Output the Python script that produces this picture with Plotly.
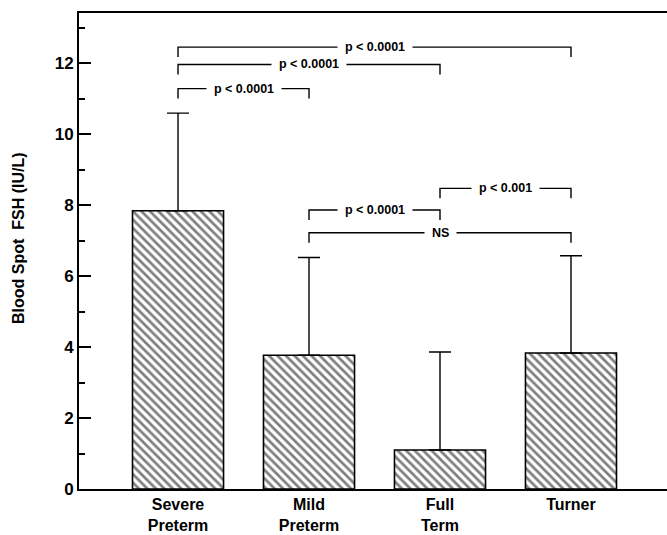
import plotly.graph_objects as go

categories = ["Severe<br>Preterm", "Mild<br>Preterm", "Full<br>Term", "Turner"]
means = [7.84, 3.77, 1.10, 3.83]
sd = [2.75, 2.75, 2.76, 2.74]
y_ticks = [0, 2, 4, 6, 8, 10, 12]

# brackets: (left group index, right group index, level, label)
brackets = [
    (0, 3, 12.45, "p < 0.0001"),
    (0, 2, 11.96, "p < 0.0001"),
    (0, 1, 11.28, "p < 0.0001"),
    (2, 3, 8.47, "p < 0.001"),
    (1, 2, 7.86, "p < 0.0001"),
    (1, 3, 7.22, "NS"),
]
y_title = "Blood Spot  FSH (IU/L)"

FONT = "Liberation Sans"
xs = list(range(len(categories)))

fig = go.Figure()
fig.add_trace(go.Bar(
    x=xs, y=means, width=0.695,
    marker=dict(color="white", line=dict(color="black", width=1.6),
                pattern=dict(shape="\\", fgcolor="black", bgcolor="white", size=6, solidity=0.45)),
    error_y=dict(type="data", array=sd, arrayminus=[0] * len(sd), symmetric=False,
                 color="black", thickness=1.4, width=11),
    showlegend=False,
))

drop = 0.28
for a, b, lvl, lab in brackets:
    fig.add_trace(go.Scatter(
        x=[xs[a], xs[a], xs[b], xs[b]], y=[lvl - drop, lvl, lvl, lvl - drop],
        mode="lines", line=dict(color="black", width=1.4), showlegend=False, hoverinfo="skip",
    ))
    fig.add_annotation(x=(xs[a] + xs[b]) / 2, y=lvl, text="&nbsp;&nbsp;" + lab + "&nbsp;&nbsp;",
                       showarrow=False, bgcolor="white", borderpad=0,
                       font=dict(family=FONT, size=12.5, color="black", weight="bold"))

fig.add_annotation(xref="paper", yref="paper", x=-0.104, y=0.527, text=y_title,
                   textangle=-90, showarrow=False, xanchor="center", yanchor="middle",
                   font=dict(family=FONT, size=16, color="black", weight="bold"))

fig.update_layout(
    width=667, height=535,
    margin=dict(l=79, r=0, t=13, b=46, autoexpand=False),
    paper_bgcolor="white", plot_bgcolor="white",
    font=dict(family=FONT, color="black"),
)
fig.update_xaxes(
    range=[-0.756, 3.733], tickvals=xs, ticktext=categories, ticks="",
    showline=True, linecolor="black", linewidth=2, mirror=True, automargin=False,
    showgrid=False, zeroline=False, ticklabelstandoff=0,
    tickfont=dict(family=FONT, size=16, color="black", weight="bold"),
)
fig.update_yaxes(
    range=[0, 13.41], tickvals=y_ticks, ticks="inside", ticklen=12, tickwidth=2,
    tickcolor="black", showline=True, linecolor="black", linewidth=2, mirror=False,
    automargin=False, showgrid=False, zeroline=False,
    minor=dict(ticks="inside", ticklen=6, tickwidth=1.5, tickcolor="black", dtick=1),
    tickfont=dict(family=FONT, size=17, color="black", weight="bold"),
)

fig.write_html("out.html", config={"displayModeBar": False},
               post_script="document.body.style.margin='0';document.body.style.overflow='hidden';")
